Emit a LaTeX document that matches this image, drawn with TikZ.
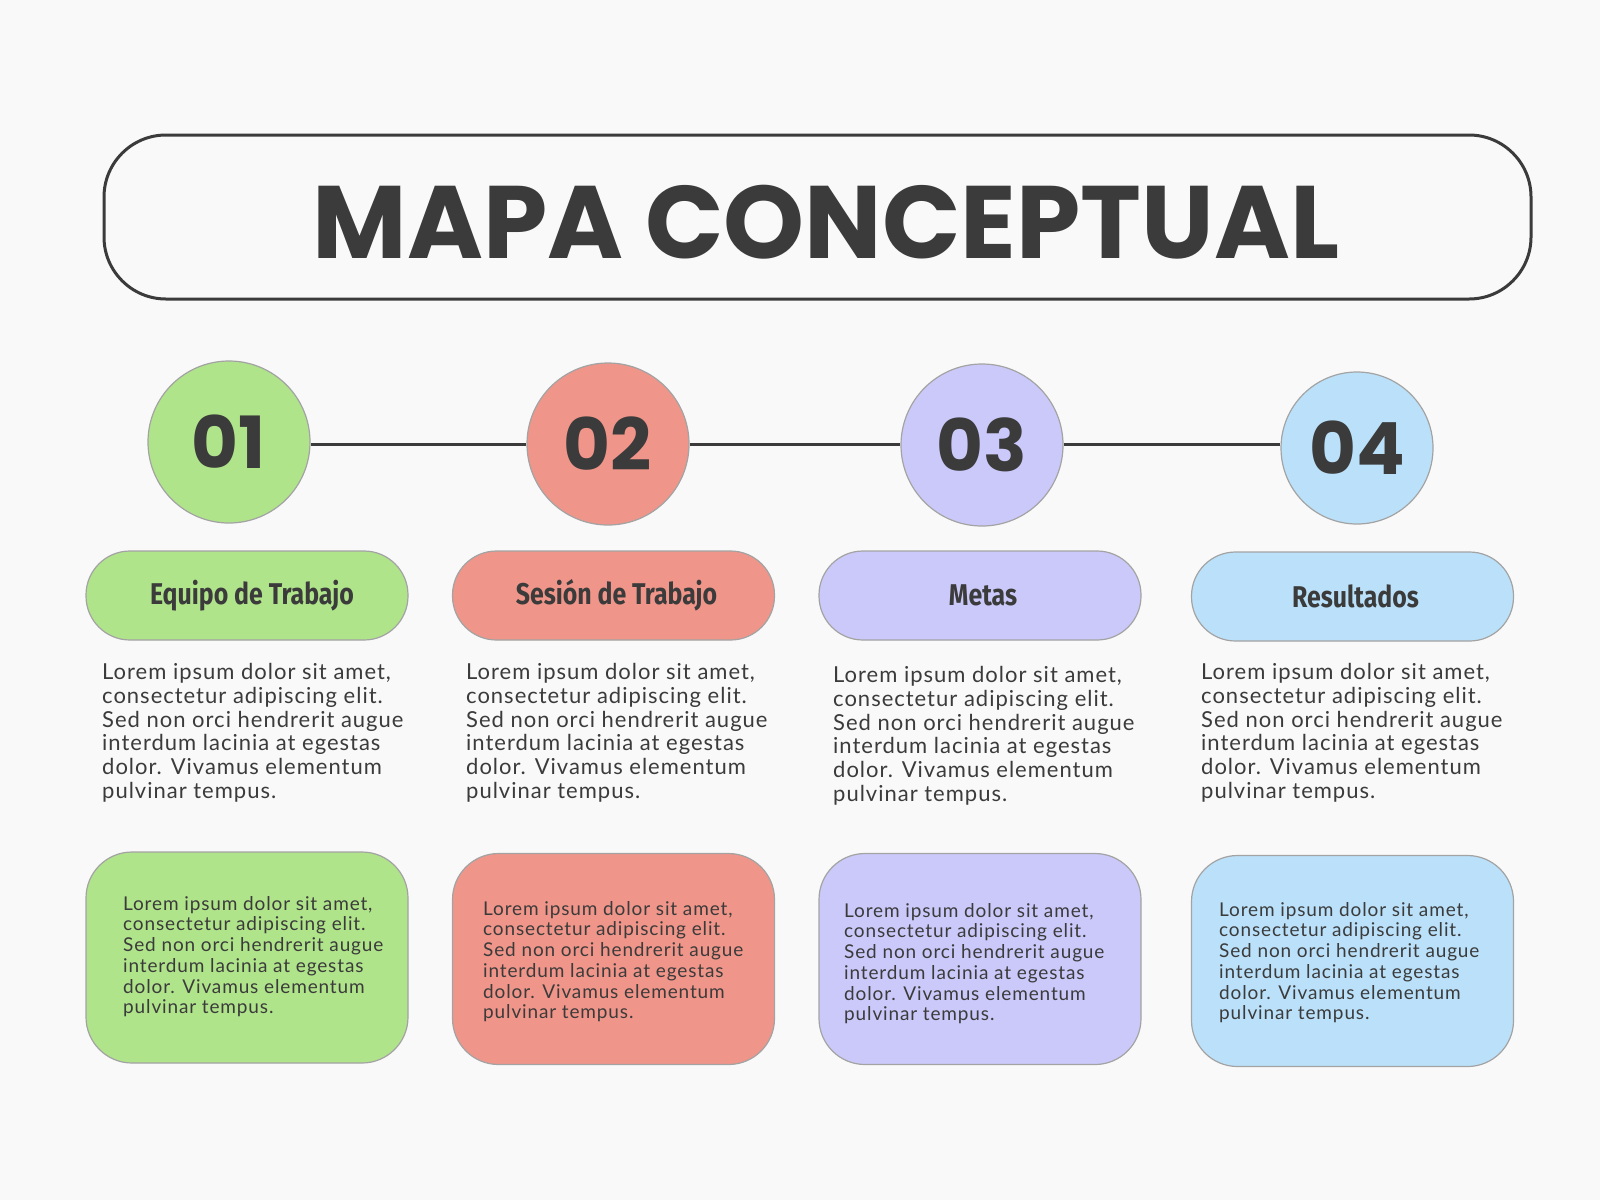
\documentclass[tikz,border=0pt]{standalone}
\usepackage{fontspec}
\setmainfont{Lato}[LetterSpace=4.5]
\newfontfamily\titlefont{Poppins}
\newfontfamily\labelfont{Fira Sans}[FakeStretch=0.83]

\definecolor{fondo}{HTML}{F9F9F9}
\definecolor{tinta}{HTML}{3B3B3B}
\definecolor{borde}{HTML}{A3A3A3}
\definecolor{verde}{HTML}{B0E48B}
\definecolor{rojo}{HTML}{F09589}
\definecolor{lila}{HTML}{CBC9FA}
\definecolor{celeste}{HTML}{BBE1FA}

\newcommand{\lorem}{Lorem ipsum dolor sit amet,\\consectetur adipiscing elit.\\Sed non orci hendrerit augue\\interdum lacinia at egestas\\dolor. Vivamus elementum\\pulvinar tempus.}

\begin{document}
\begin{tikzpicture}[x=1pt,y=-1pt,
    circulo/.style={circle,draw=borde,line width=1.2pt,minimum size=162pt,inner sep=0pt,text=tinta,font=\titlefont\bfseries\fontsize{72}{72}\selectfont},
    pildora/.style={rectangle,rounded corners=44pt,draw=borde,line width=1.2pt,minimum width=322pt,minimum height=89pt,text=tinta,font=\labelfont\bfseries\fontsize{30}{30}\selectfont},
    caja/.style={rectangle,rounded corners=46pt,draw=borde,line width=1.2pt,minimum width=322pt,minimum height=211pt},
    texto/.style={anchor=north west,inner sep=0pt,align=left,text=tinta,font=\fontsize{22}{23.8}\selectfont},
    textito/.style={anchor=north west,inner sep=0pt,align=left,text=tinta,font=\fontsize{19}{20.7}\selectfont},
    linea/.style={tinta,line width=3pt}]
        \fill[fondo] (0,0) rectangle (1600,1200);
        % title
        \node[draw=tinta,line width=3pt,rounded corners=62pt,minimum width=1427pt,minimum height=164pt] (marco) at (817.5,217) {};
        \node[text=tinta,font=\titlefont\bfseries\fontsize{103}{103}\selectfont] (titulo) at (826,222) {MAPA CONCEPTUAL};
        % circles
        \node[circulo,fill=verde] (c1) at (229,442) {01};
        \node[circulo,fill=rojo] (c2) at (608,444) {02};
        \node[circulo,fill=lila] (c3) at (982,445) {03};
        \node[circulo,fill=celeste,minimum size=152pt] (c4) at (1357,448) {04};
        \draw[linea] (c1.east |- c2) -- (c2.west);
        \draw[linea] (c2.east) -- (c3.west |- c2);
        \draw[linea] (c2 -| c3.east) -- (c2 -| c4.west);
        % labels
        \node[pildora,fill=verde] (p1) at (247,595.5) {\hspace{10pt}Equipo de Trabajo};
        \node[pildora,fill=rojo] (p2) at (613.5,595.5) {\hspace{6pt}Sesión de Trabajo};
        \node[pildora,fill=lila] (p3) at (980,595.5) {\hspace{6pt}Metas};
        \node[pildora,fill=celeste] (p4) at (1352.5,596.5) {\hspace{6pt}Resultados};
        % texts
        \node[texto] (t1) at (102,663) {\lorem};
        \node[texto] (t2) at (466,663) {\lorem};
        \node[texto] (t3) at (833,666) {\lorem};
        \node[texto] (t4) at (1201,663) {\lorem};
        % boxes
        \node[caja,fill=verde] (k1) at (247,957.5) {};
        \node[caja,fill=rojo] (k2) at (613.5,959) {};
        \node[caja,fill=lila] (k3) at (980,959) {};
        \node[caja,fill=celeste] (k4) at (1352.5,961) {};
        \node[textito] (b1) at (123,896) {\lorem};
        \node[textito] (b2) at (483,901) {\lorem};
        \node[textito] (b3) at (844,903) {\lorem};
        \node[textito] (b4) at (1219,902) {\lorem};
    \end{tikzpicture}
\end{document}
